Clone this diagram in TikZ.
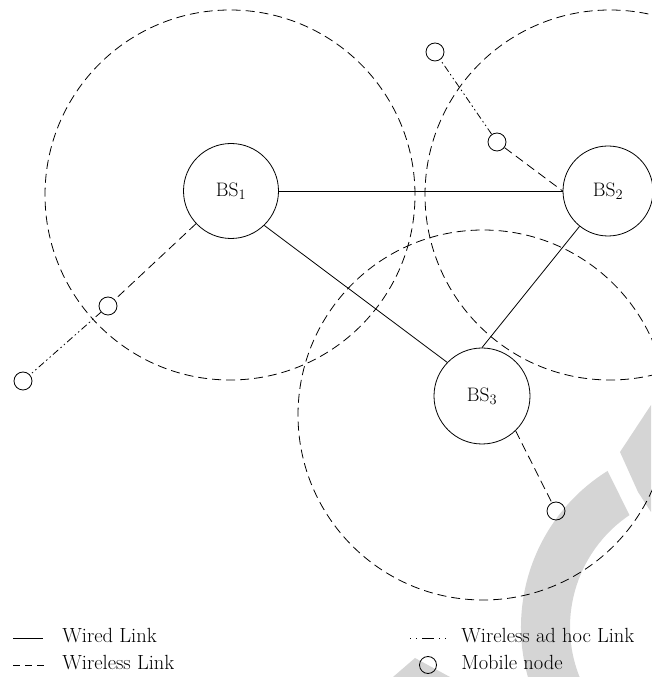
\documentclass[tikz,border=0pt]{standalone}
\usepackage{amsmath}
\usepackage{tikz}
\usetikzlibrary{arrows.meta}
\definecolor{markgray}{RGB}{213,213,213}

\tikzset{
  wired/.style={draw=black,solid},
  wireless/.style={draw=black,dash pattern=on 9pt off 5pt},
  adhoc/.style={draw=black,dash pattern=on 7pt off 3pt on 1.5pt off 3pt on 1.5pt off 3pt},
  rangecircle/.style={draw=black,dash pattern=on 9pt off 5pt},
  bsnode/.style={circle,draw,inner sep=0pt,font=\fontsize{19.5}{22}\selectfont},
  mobnode/.style={circle,draw,inner sep=0pt,minimum size=18pt},
  legtext/.style={anchor=base west,inner sep=0pt,font=\fontsize{20.5}{24}\selectfont}
}

\begin{document}
\begin{tikzpicture}[x=1pt,y=1pt,line width=0.8pt]
\useasboundingbox (0,0) rectangle (651,677);

% watermark in the background
\begin{scope}
    \clip (0,0) rectangle (651,677);
    \fill[markgray] (705,50) ++(122:184) arc[start angle=122,end angle=205,radius=184]
        -- ([shift={(205:135)}]705,50) arc[start angle=205,end angle=124,radius=135] -- cycle;
    \fill[markgray] (620,225) -- (651,272) -- (651,165) -- (638,185) -- cycle;
    \fill[markgray] (393,0) -- (415,19) -- (450,0) -- cycle;
\end{scope}

% ranges of the base stations
\coordinate (R1) at (230,482);
\coordinate (R2) at (610,482);
\coordinate (R3) at (483,262);
\draw[rangecircle] (R1) circle (185);
\draw[rangecircle] (R2) circle (185);
\draw[rangecircle] (R3) circle (185);

\begin{scope}[every node/.style={bsnode}]
    \node[minimum size=95pt] (BS1) at (231,486) {BS$_1$};
    \node[minimum size=90pt] (BS2) at (608,486) {BS$_2$};
    \node[minimum size=96pt] (BS3) at (482,281) {BS$_3$};
\end{scope}

\begin{scope}[every node/.style={mobnode}]
    \node (M1) at (435,625) {};
    \node (M2) at (497,535) {};
    \node (M3) at (108,371) {};
    \node (M4) at (23,296) {};
    \node (M5) at (556,166) {};
\end{scope}

\begin{scope}[every edge/.style={draw=black}]
    \path (BS1) edge[wired] (BS2);
    \path (BS1.-46) edge[wired] (BS3.136);
    \path (BS3.north) edge[wired] (BS2);
    \path (BS1) edge[wireless] (M3);
    \path (M3) edge[adhoc] (M4);
    \path (M2) edge[wireless] (BS2.west);
    \path (M2) edge[adhoc] (M1);
    \path (BS3.-46) edge[wireless] (M5);
\end{scope}

% legend
\coordinate (LA1) at (13,39);
\coordinate (LA2) at (43,39);
\coordinate (LB1) at (13,12);
\coordinate (LB2) at (46,12);
\coordinate (LC1) at (410,39);
\coordinate (LC2) at (448,39);
\draw[wired] (LA1) -- (LA2);
\draw[draw=black,dash pattern=on 7pt off 5pt] (LB1) -- (LB2);
\draw[draw=black,dash pattern=on 1pt off 5pt on 1pt off 5pt on 12pt off 5pt on 1pt off 5pt on 1pt off 30pt] (LC1) -- (LC2);
\node[mobnode,minimum size=17pt] (LM) at (428,12) {};
\node[legtext] (TA) at (62,34) {Wired Link};
\node[legtext] (TB) at (62,7) {Wireless Link};
\node[legtext] (TC) at (461,34) {Wireless ad hoc Link};
\node[legtext] (TD) at (461,7) {Mobile node};
\end{tikzpicture}
\end{document}
